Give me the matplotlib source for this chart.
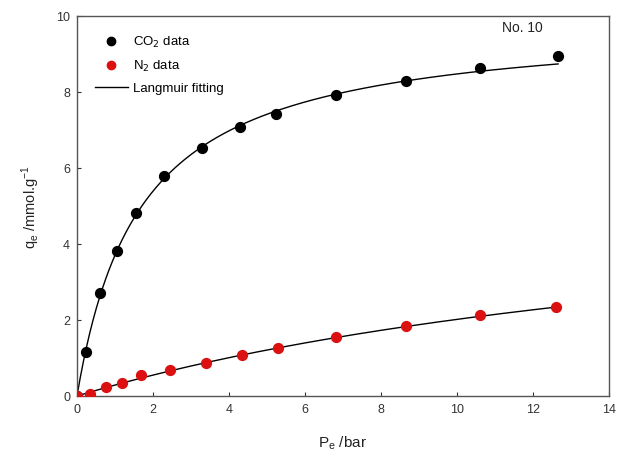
import numpy as np
import matplotlib
matplotlib.use("Agg")
import matplotlib.pyplot as plt

plt.rcParams['font.family'] = ['Liberation Sans', 'DejaVu Sans']

# Equilibrium pressure (bar) and uptake (mmol/g)
p_co2 = [0.0, 0.24, 0.60, 1.05, 1.55, 2.29, 3.29, 4.29, 5.24, 6.82, 8.66, 10.60, 12.66]
q_co2 = [0.0, 1.16, 2.71, 3.82, 4.82, 5.79, 6.53, 7.08, 7.42, 7.92, 8.29, 8.63, 8.95]

p_n2 = [0.0, 0.34, 0.76, 1.18, 1.68, 2.45, 3.39, 4.34, 5.29, 6.82, 8.66, 10.60, 12.60]
q_n2 = [0.0, 0.05, 0.24, 0.34, 0.55, 0.68, 0.87, 1.08, 1.26, 1.55, 1.84, 2.13, 2.34]

# Langmuir parameters: q = qm * b * P / (1 + b * P)
qm_co2, b_co2 = 9.89, 0.599
qm_n2, b_n2 = 6.05, 0.050


def langmuir(p, qm, b):
    return qm * b * p / (1.0 + b * p)


fig = plt.figure(figsize=(6.29, 4.64), dpi=100)
ax = fig.add_axes([0.1224, 0.1444, 0.8458, 0.819])

pc = np.linspace(0, max(p_co2), 300)
pn = np.linspace(0, max(p_n2), 300)
ax.plot(pc, langmuir(pc, qm_co2, b_co2), color='black', lw=1.0, zorder=2,
        label='Langmuir fitting')
ax.plot(pn, langmuir(pn, qm_n2, b_n2), color='black', lw=1.0, zorder=2)

ax.scatter(p_co2, q_co2, s=50, color='black', zorder=3, label='CO$_2$ data')
ax.scatter(p_n2, q_n2, s=50, color='#dc1010', zorder=3, label='N$_2$ data')

ax.set_xlim(0, 14)
ax.set_ylim(0, 10)
ax.set_xticks(range(0, 15, 2))
ax.set_yticks(range(0, 11, 2))
ax.tick_params(direction='in', length=3, width=0.8, labelsize=9,
               colors='#333333', pad=5)
for s in ax.spines.values():
    s.set_color('#555555')
    s.set_linewidth(1.0)

ax.set_xlabel('P$_\\mathregular{e}$ /bar', fontsize=11, color='#222222', labelpad=13)
ax.set_ylabel('q$_\\mathregular{e}$ /mmol.g$^{\\mathregular{-1}}$', fontsize=10.5,
              color='#222222', labelpad=10)

ax.text(11.73, 9.71, 'No. 10', fontsize=10, ha='center', va='center', color='#222222')

handles, labels = ax.get_legend_handles_labels()
order = [1, 2, 0]
ax.legend([handles[i] for i in order], [labels[i] for i in order],
          loc='upper left', bbox_to_anchor=(0.011, 0.985), frameon=False,
          fontsize=9.5, handlelength=2.5, handletextpad=0.4, labelspacing=0.7,
          scatterpoints=1, markerscale=0.85)

fig.savefig('out.png', dpi=100)
